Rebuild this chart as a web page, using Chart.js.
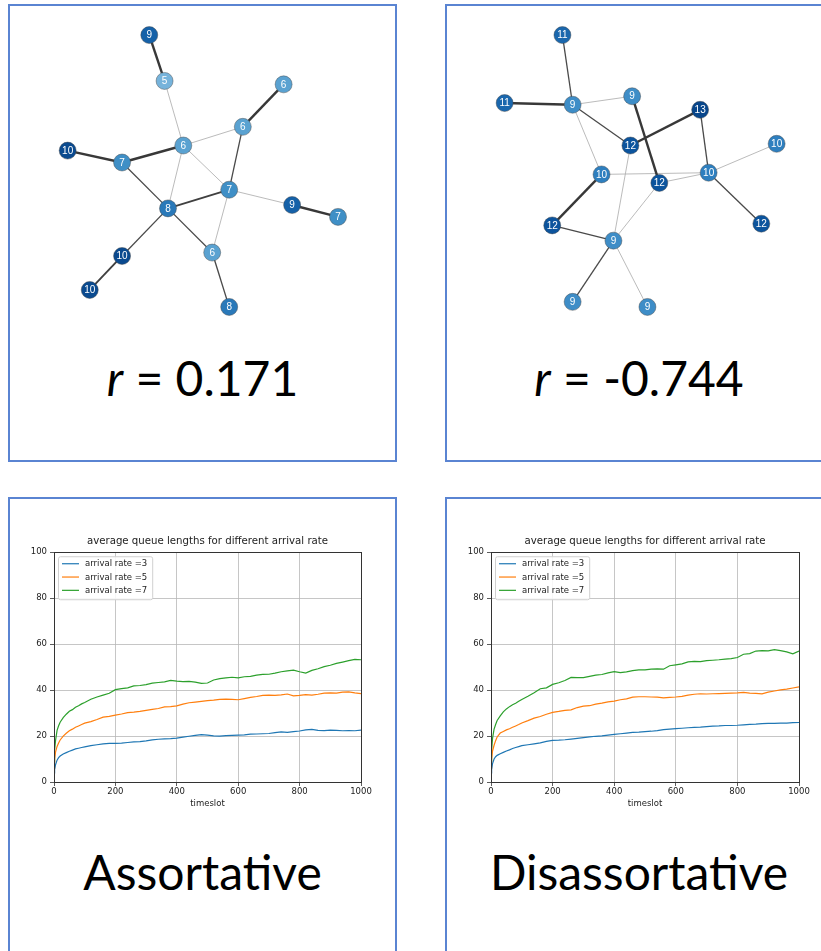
<!DOCTYPE html>
<html>
<head>
<meta charset="utf-8">
<script src="https://cdn.jsdelivr.net/npm/chart.js@4.4.1/dist/chart.umd.min.js"></script>
<style>
  html, body { margin: 0; padding: 0; background: #fff; }
  body { width: 821px; height: 951px; position: relative; overflow: hidden; }
  .panel { position: absolute; border: 2px solid #5a84d2; box-sizing: border-box; }
  .box { position: absolute; }
  .big { position: absolute; text-align: center; font-family: Lato, "Open Sans", sans-serif;
         font-size: 48px; line-height: 48px; color: #000; white-space: nowrap; }
</style>
</head>
<body>
<div class="panel" style="left:8px; top:4px; width:389px; height:458px;"></div>
<div class="panel" style="left:445px; top:4px; width:389px; height:458px;"></div>
<div class="panel" style="left:8px; top:497px; width:389px; height:470px;"></div>
<div class="panel" style="left:445px; top:497px; width:389px; height:470px;"></div>

<div class="box" style="left:10px; top:6px;"><canvas id="netA" width="385" height="330"></canvas></div>
<div class="box" style="left:447px; top:6px;"><canvas id="netB" width="374" height="330"></canvas></div>
<div class="box" style="left:10px; top:520px;"><canvas id="queueA" width="380" height="302"></canvas></div>
<div class="box" style="left:447px; top:520px;"><canvas id="queueB" width="372" height="302"></canvas></div>

<div class="big" id="rA" style="left:9px; width:387px; top:354px;"></div>
<div class="big" id="rB" style="left:446px; width:386px; top:354px;"></div>
<div class="big" id="nameA" style="left:9px; width:387px; top:848px;"></div>
<div class="big" id="nameB" style="left:446px; width:386px; top:848px;"></div>

<script>
// ---- assortative network: node degree labels, layout positions, weighted edges ----
const assortLabels = [9, 5, 6, 6, 6, 10, 7, 7, 9, 7, 8, 6, 10, 10, 8];
const assortX = [-0.31, -0.22, 0.48, 0.24, -0.11, -0.79, -0.47, 0.16, 0.53, 0.80, -0.20, 0.06, -0.47, -0.66, 0.16];
const assortY = [0.80, 0.53, 0.51, 0.26, 0.15, 0.12, 0.05, -0.11, -0.20, -0.27, -0.22, -0.48, -0.50, -0.70, -0.80];
const assortEdges = [
  [0, 1, 3], [1, 4, 1], [2, 3, 3], [3, 4, 1], [3, 7, 2], [5, 6, 3],
  [6, 4, 3], [6, 10, 2], [4, 10, 1], [4, 7, 1], [10, 7, 2.5], [7, 8, 1],
  [8, 9, 3], [7, 11, 1], [10, 11, 2], [10, 12, 2], [12, 13, 2.5], [11, 14, 2]
];
const assortR = '0.171';

// ---- disassortative network ----
const disLabels = [11, 11, 9, 9, 13, 12, 10, 10, 10, 12, 12, 12, 9, 9, 9];
const disX = [-0.45, -0.79, -0.39, -0.04, 0.36, -0.05, 0.81, -0.22, 0.41, 0.12, 0.72, -0.51, -0.15, -0.39, 0.05];
const disY = [0.80, 0.40, 0.39, 0.44, 0.36, 0.15, 0.16, -0.02, -0.01, -0.07, -0.31, -0.32, -0.41, -0.77, -0.80];
const disEdges = [
  [0, 2, 2], [1, 2, 3], [2, 3, 1], [2, 5, 2], [2, 7, 1], [3, 9, 3],
  [4, 5, 3], [4, 8, 2], [6, 8, 1], [7, 8, 1], [9, 8, 1], [8, 10, 2],
  [5, 12, 1], [7, 11, 3], [11, 12, 2], [9, 12, 1], [12, 13, 2], [12, 14, 1]
];
const disR = '-0.744';

const panelNames = ['Assortative', 'Disassortative'];

// ---- average queue length over time ----
const timeslots = [0, 2, 5, 10, 15, 20, 30, 40, 50, 60, 70, 80, 90, 100,
  120, 140, 160, 180, 200, 220, 240, 260, 280, 300, 320, 340, 360, 380, 400,
  420, 440, 460, 480, 500, 520, 540, 560, 580, 600, 620, 640, 660, 680, 700,
  720, 740, 760, 780, 800, 820, 840, 860, 880, 900, 920, 940, 960, 980, 1000];

const assortRate3 = [4, 5.5, 7.5, 9.5, 10.6, 11.3, 12.2, 12.8, 13.4, 13.9, 14.4, 14.7, 15, 15.3,
  15.8, 16.2, 16.6, 16.8, 16.8, 16.9, 17.2, 17.5, 17.6, 17.9, 18.3, 18.6, 18.8, 18.9, 19.1,
  19.5, 19.9, 20.3, 20.6, 20.4, 20.1, 20, 20.2, 20.3, 20.4, 20.5, 20.8, 20.9, 21, 21.1,
  21.5, 21.8, 21.6, 21.9, 22.2, 22.7, 22.9, 22.5, 22.4, 22.6, 22.5, 22.3, 22.4, 22.3, 22.6];
const assortRate5 = [6, 10, 13, 15.5, 17, 18.3, 20, 21.2, 22.3, 23, 23.8, 24.4, 25, 25.6,
  26.3, 27.2, 28.2, 28.6, 29.1, 29.6, 30.2, 30.4, 30.7, 31.2, 31.6, 32, 32.7, 32.8, 33.1,
  33.9, 34.5, 34.8, 35.1, 35.4, 35.6, 36, 36.1, 36, 35.8, 36.3, 36.8, 37.2, 37.7, 37.8,
  37.7, 37.9, 38.3, 37.5, 37.7, 38, 37.8, 38.2, 38.7, 38.8, 38.7, 39.1, 39.2, 38.8, 38.5];
const assortRate7 = [9, 14, 18, 22.5, 24.5, 26, 28, 29.5, 30.8, 31.5, 32.5, 33.2, 34, 34.6,
  36, 37, 37.8, 38.6, 40.2, 40.6, 41, 41.8, 42, 42.4, 43, 43.3, 43.6, 44.2, 43.9,
  43.7, 43.8, 43.5, 42.9, 43.1, 44.4, 45, 45.3, 45.6, 45.3, 45.8, 46, 46.5, 46.8, 46.9,
  47.4, 48, 48.4, 48.7, 48, 47.4, 48.6, 49.3, 50.2, 50.8, 51.6, 52.2, 52.8, 53.4, 53.2];

const disRate3 = [4, 5.5, 8, 10, 11, 11.6, 12.3, 12.9, 13.5, 14, 14.6, 15, 15.4, 15.8,
  16.2, 16.6, 17, 17.7, 18.1, 18.2, 18.4, 18.7, 19, 19.3, 19.6, 19.9, 20.1, 20.4, 20.7,
  21, 21.3, 21.6, 21.7, 21.9, 22.1, 22.4, 22.8, 23, 23.2, 23.4, 23.6, 23.8, 23.9, 24.1,
  24.3, 24.4, 24.6, 24.6, 24.7, 24.9, 25.1, 25.2, 25.4, 25.5, 25.5, 25.6, 25.6, 25.8, 25.9];
const disRate5 = [6, 10, 13.5, 16, 18, 19.6, 21.3, 22, 22.7, 23.2, 23.8, 24.4, 25, 25.7,
  26.7, 27.8, 28.5, 29.5, 30.3, 30.7, 31.2, 31.4, 32.4, 33, 33.2, 33.9, 34.3, 34.9, 35.2,
  35.8, 36.2, 36.9, 37.1, 37.1, 37, 36.9, 36.6, 36.8, 37, 37.3, 37.8, 38.2, 38.4, 38.3,
  38.4, 38.5, 38.6, 38.7, 38.8, 39, 38.7, 38.6, 38.4, 39.1, 39.6, 40.1, 40.4, 40.9, 41.4];
const disRate7 = [9, 14, 19, 23, 25, 26.8, 28.8, 30.5, 31.8, 32.8, 33.6, 34.3, 35.1, 35.9,
  37.3, 38.8, 40.6, 41, 42.5, 43.2, 44.2, 45.5, 45.4, 45.4, 46, 46.5, 46.8, 47.5, 48,
  47.6, 47.9, 48.5, 48.8, 48.8, 49.1, 49.2, 49.1, 50.6, 51, 51.4, 52.3, 52.5, 52.4, 52.8,
  53, 53.2, 53.5, 53.7, 54.2, 55.6, 55.9, 57, 57.2, 57.1, 57.6, 57.2, 56.6, 55.8, 57];

const seriesNames = ['arrival rate =3', 'arrival rate =5', 'arrival rate =7'];
const seriesColors = ['#1f77b4', '#ff7f0e', '#2ca02c'];
const chartTitle = 'average queue lengths for different arrival rate';
const xAxisTitle = 'timeslot';

// ---- styling helpers ----
// blue shades per degree, lightest for the lowest degree in each network
const assortShades = { 5: '#76b3db', 6: '#5aa2d1', 7: '#3f8fc6', 8: '#2a79b9', 9: '#1561a8', 10: '#0a4a8f' };
const disShades = { 9: '#3e8dc7', 10: '#2e7fbf', 11: '#1a67ad', 12: '#0c549d', 13: '#08468b' };

function edgeStyle(w) {
  if (w >= 3) return { color: '#383838', width: 2.4 };
  if (w >= 2.5) return { color: '#404040', width: 1.9 };
  if (w >= 2) return { color: '#4a4a4a', width: 1.3 };
  return { color: '#a9a9a9', width: 0.8 };
}

const nodeLabelPlugin = {
  id: 'nodeLabels',
  afterDatasetsDraw(chart) {
    const ds = chart.data.datasets[0];
    const meta = chart.getDatasetMeta(0);
    const ctx = chart.ctx;
    ctx.save();
    ctx.fillStyle = '#ffffff';
    ctx.font = '10px "Liberation Sans", Arial, sans-serif';
    ctx.textAlign = 'center';
    ctx.textBaseline = 'middle';
    meta.data.forEach((pt, i) => ctx.fillText(String(ds.nodeLabels[i]), pt.x, pt.y + 0.5));
    ctx.restore();
  }
};

function drawNetwork(canvasId, labels, xs, ys, edges, shades, xRange, yRange) {
  const nodes = labels.map((lab, i) => ({ x: xs[i], y: ys[i] }));
  const datasets = [{
    type: 'scatter',
    data: nodes,
    nodeLabels: labels,
    order: 0,
    pointRadius: 8.5,
    pointBackgroundColor: labels.map(l => shades[l]),
    pointBorderColor: 'rgba(70,70,70,0.55)',
    pointBorderWidth: 0.8
  }];
  edges.forEach(([a, b, w]) => {
    const st = edgeStyle(w);
    datasets.push({
      type: 'line',
      data: [nodes[a], nodes[b]],
      order: 1,
      showLine: true,
      borderColor: st.color,
      borderWidth: st.width,
      pointRadius: 0
    });
  });
  new Chart(document.getElementById(canvasId), {
    type: 'scatter',
    data: { datasets },
    options: {
      responsive: false,
      animation: false,
      events: [],
      layout: { padding: 0, autoPadding: false },
      scales: {
        x: { type: 'linear', display: false, min: xRange[0], max: xRange[1] },
        y: { type: 'linear', display: false, min: yRange[0], max: yRange[1] }
      },
      plugins: { legend: { display: false }, tooltip: { enabled: false } }
    },
    plugins: [nodeLabelPlugin]
  });
}

drawNetwork('netA', assortLabels, assortX, assortY, assortEdges, assortShades, [-1.129, 1.135], [-0.971, 0.971]);
drawNetwork('netB', disLabels, disX, disY, disEdges, disShades, [-1.129, 1.071], [-0.971, 0.971]);

// axes frame (top and right spines) and boxed legend inside the plot
const framePlugin = {
  id: 'frameAndLegend',
  afterDraw(chart) {
    const ctx = chart.ctx;
    const ca = chart.chartArea;
    ctx.save();
    ctx.strokeStyle = '#333';
    ctx.lineWidth = 1;
    ctx.strokeRect(Math.round(ca.left) + 0.5, Math.round(ca.top) + 0.5,
                   Math.round(ca.right - ca.left), Math.round(ca.bottom - ca.top));

    ctx.font = '8.5px "DejaVu Sans", sans-serif';
    const names = chart.data.datasets.map(d => d.label);
    const tw = Math.max(...names.map(n => ctx.measureText(n).width));
    const bx = ca.left + 4, by = ca.top + 4;
    const bw = 27 + tw + 5, bh = 43;
    ctx.beginPath();
    if (ctx.roundRect) ctx.roundRect(bx + 0.5, by + 0.5, bw, bh, 2); else ctx.rect(bx + 0.5, by + 0.5, bw, bh);
    ctx.fillStyle = 'rgba(255,255,255,0.85)';
    ctx.fill();
    ctx.strokeStyle = '#d0d0d0';
    ctx.lineWidth = 1;
    ctx.stroke();
    ctx.textBaseline = 'middle';
    ctx.fillStyle = '#222';
    chart.data.datasets.forEach((d, i) => {
      const ry = by + 7.5 + i * 13.3;
      ctx.strokeStyle = d.borderColor;
      ctx.lineWidth = 1.2;
      ctx.beginPath();
      ctx.moveTo(bx + 4, ry);
      ctx.lineTo(bx + 21, ry);
      ctx.stroke();
      ctx.fillText(d.label, bx + 27, ry + 0.5);
    });
    ctx.restore();
  }
};

function drawQueues(canvasId, series, rightPad) {
  const datasets = series.map((vals, k) => ({
    label: seriesNames[k],
    data: timeslots.map((t, i) => ({ x: t, y: vals[i] })),
    borderColor: seriesColors[k],
    backgroundColor: seriesColors[k],
    borderWidth: 1.2,
    pointRadius: 0,
    tension: 0
  }));
  const tickFont = { family: '"DejaVu Sans", sans-serif', size: 8.5 };
  new Chart(document.getElementById(canvasId), {
    type: 'line',
    data: { datasets },
    options: {
      responsive: false,
      animation: false,
      events: [],
      layout: { padding: { left: 0, right: rightPad, top: 0, bottom: 0 }, autoPadding: false },
      scales: {
        x: {
          type: 'linear', min: 0, max: 1000,
          afterFit(s) { s.height = 40; },
          ticks: { stepSize: 200, color: '#222', font: tickFont, padding: 1, maxRotation: 0,
                   callback: v => String(v) },
          grid: { color: '#b8b8b8', lineWidth: 0.8, tickColor: '#333', tickLength: 4 },
          border: { color: '#333', width: 1 },
          title: { display: true, text: xAxisTitle, color: '#222', font: tickFont, padding: { top: 0, bottom: 13 } }
        },
        y: {
          type: 'linear', min: 0, max: 100,
          afterFit(s) { s.width = 44; },
          ticks: { stepSize: 20, color: '#222', font: tickFont, padding: 3, callback: v => String(v) },
          grid: { color: '#b8b8b8', lineWidth: 0.8, tickColor: '#333', tickLength: 4 },
          border: { color: '#333', width: 1 }
        }
      },
      plugins: {
        legend: { display: false },
        tooltip: { enabled: false },
        title: {
          display: true, text: chartTitle, fullSize: false, color: '#222',
          font: { family: '"DejaVu Sans", sans-serif', size: 10.2, weight: 'normal', lineHeight: 1.2 },
          padding: { top: 15, bottom: 5 }
        }
      }
    },
    plugins: [framePlugin]
  });
}

drawQueues('queueA', [assortRate3, assortRate5, assortRate7], 29);
drawQueues('queueB', [disRate3, disRate5, disRate7], 20);

// coefficient and panel captions
document.getElementById('rA').innerHTML = '<i>r</i> = ' + assortR;
document.getElementById('rB').innerHTML = '<i>r</i> = ' + disR;
document.getElementById('nameA').textContent = panelNames[0];
document.getElementById('nameB').textContent = panelNames[1];
</script>
</body>
</html>
